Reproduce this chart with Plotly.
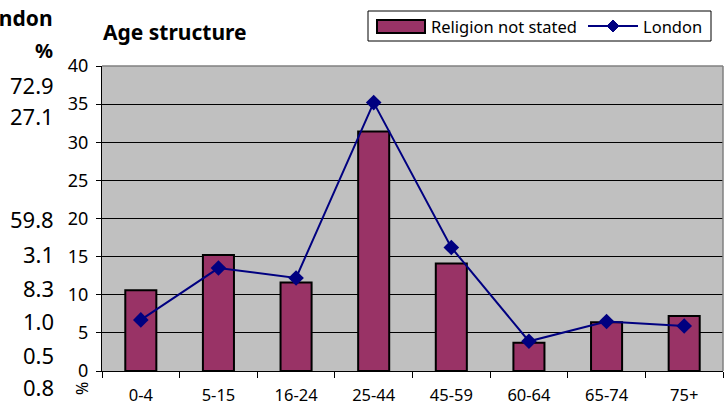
import plotly.graph_objects as go

# ---- data ----
age_groups = ["0-4", "5-15", "16-24", "25-44", "45-59", "60-64", "65-74", "75+"]
religion_not_stated = [10.6, 15.2, 11.6, 31.4, 14.1, 3.7, 6.4, 7.2]
london = [6.7, 13.5, 12.2, 35.2, 16.2, 3.9, 6.5, 5.9]
y_ticks = [0, 5, 10, 15, 20, 25, 30, 35, 40]

# neighbouring table column (cut off at the left edge of the picture)
side_header = "London"
side_unit = "%"
side_values = ["72.9", "27.1", "59.8", "3.1", "8.3", "1.0", "0.5", "0.8"]

# ---- layout geometry (pixels) ----
W, H = 726, 405
L, R, T, B = 102, 3, 66, 34
PW, PH = W - L - R, H - T - B


def px_x(x):
    return (x - L) / PW


def px_y(y):
    return (H - B - y) / PH


FONT = "Noto Sans"
BAR_COLOR = "#993366"
LINE_COLOR = "#000080"

fig = go.Figure()
fig.add_trace(go.Bar(
    x=age_groups, y=religion_not_stated, name="Religion not stated",
    marker=dict(color=BAR_COLOR, line=dict(color="black", width=2)),
    width=0.4, showlegend=False,
))
fig.add_trace(go.Scatter(
    x=age_groups, y=london, name="London", mode="lines+markers",
    line=dict(color=LINE_COLOR, width=2),
    marker=dict(symbol="diamond", size=12, color=LINE_COLOR),
    showlegend=False,
))


def ann(text, x, y, xanchor="left", size=15, angle=0):
    return dict(text=text, xref="paper", yref="paper", x=px_x(x), y=px_y(y),
                xanchor=xanchor, yanchor="middle", showarrow=False,
                textangle=angle, font=dict(size=size, color="black", family=FONT))


annotations = [
    ann("<b>Age structure</b>", 101, 32, size=21),
    ann("<b>" + side_header + "</b>", 55, 18, xanchor="right", size=21),
    ann("<b>" + side_unit + "</b>", 55, 50, xanchor="right", size=20),
    ann("%", 82, 389, xanchor="center", size=16, angle=-90),
    # legend texts
    ann("Religion not stated", 429, 26, size=16.5),
    ann("London", 641, 26, size=16.5),
]
side_y = [85, 116, 219, 254, 288, 321, 355, 387]
for v, yy in zip(side_values, side_y):
    annotations.append(ann(v, 56, yy, xanchor="right", size=22))


def rect(x0, y0, x1, y1, line_color, fill, width=1):
    return dict(type="rect", xref="paper", yref="paper",
                x0=px_x(x0), x1=px_x(x1), y0=px_y(y0), y1=px_y(y1),
                line=dict(color=line_color, width=width), fillcolor=fill,
                layer="above")


def diamond(cx, cy, r):
    pts = [(cx, cy - r), (cx + r, cy), (cx, cy + r), (cx - r, cy)]
    path = "M " + " L ".join(f"{px_x(a):.5f},{px_y(b):.5f}" for a, b in pts) + " Z"
    return dict(type="path", xref="paper", yref="paper", path=path,
                fillcolor=LINE_COLOR, line=dict(color=LINE_COLOR, width=1),
                layer="above")


shapes = [
    # plot border top / right in grey
    dict(type="line", xref="paper", yref="paper", x0=0, x1=1, y0=1, y1=1,
         line=dict(color="#808080", width=1.5), layer="above"),
    dict(type="line", xref="paper", yref="paper", x0=1, x1=1, y0=0, y1=1,
         line=dict(color="#808080", width=1.5), layer="above"),
    # legend box
    rect(368, 11, 711, 41, "black", "white", 1),
    rect(377, 20, 425, 33, "black", BAR_COLOR, 2),
    dict(type="line", xref="paper", yref="paper", x0=px_x(588), x1=px_x(638),
         y0=px_y(26), y1=px_y(26), line=dict(color=LINE_COLOR, width=2), layer="above"),
    diamond(613, 26, 6),
]

fig.update_layout(
    width=W, height=H,
    margin=dict(l=L, r=R, t=T, b=B, pad=0, autoexpand=False),
    paper_bgcolor="white", plot_bgcolor="#C0C0C0",
    font=dict(family=FONT, size=15, color="black"),
    showlegend=False,
    annotations=annotations,
    shapes=shapes,
    xaxis=dict(type="category", showgrid=False, showline=True, linecolor="black",
               linewidth=1, ticks="outside", tickson="boundaries", ticklen=6,
               tickcolor="black", ticklabelstandoff=9, tickfont=dict(size=16.5),
               automargin=False, fixedrange=True),
    yaxis=dict(range=[0, 40], tickvals=y_ticks, showgrid=True, gridcolor="black",
               gridwidth=1, showline=True, linecolor="black", linewidth=1,
               ticks="outside", ticklen=5, tickcolor="black", ticklabelstandoff=4,
               tickfont=dict(size=18), zeroline=False, automargin=False,
               fixedrange=True),
)

fig.write_html("out.html", config={"displayModeBar": False},
               post_script="document.body.style.margin='0';document.body.style.padding='0';")
